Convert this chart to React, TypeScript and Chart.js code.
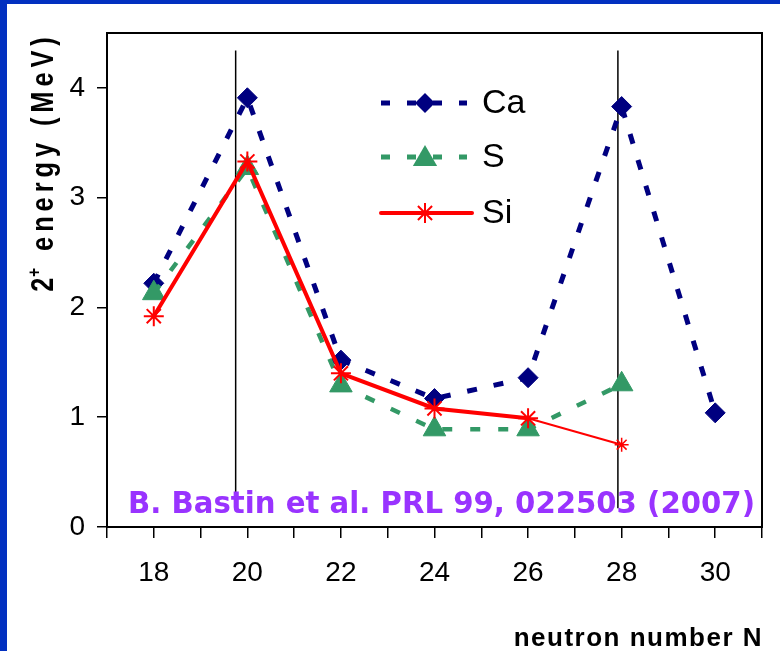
import React, { useEffect, useRef } from 'react';
import { Chart, registerables } from 'chart.js';

Chart.register(...registerables);

// ---- data ----
const neutronNumbers = [18, 20, 22, 24, 26, 28, 30];
const caEnergies = [2.22, 3.91, 1.52, 1.17, 1.36, 3.83, 1.04];
const sNeutronNumbers = [18, 20, 22, 24, 26, 28];
const sEnergies = [2.13, 3.27, 1.29, 0.89, 0.89, 1.3];
const siNeutronNumbers = [18, 20, 22, 24, 26, 28];
const siEnergies = [1.92, 3.33, 1.4, 1.08, 0.99, 0.75];
const shellLinePositions = [19.75, 27.92];
const shellLineEnergyRange = [0.17, 4.34];
const xTickLabels = ['18', '20', '22', '24', '26', '28', '30'];
const yTickLabels = ['0', '1', '2', '3', '4'];
const seriesNames = ['Ca', 'S', 'Si'];
const xAxisTitle = 'neutron number N';
const yAxisTitleMain = '2';
const yAxisTitleSup = '+';
const yAxisTitleRest = ' energy (MeV)';
const citation = 'B. Bastin et al. PRL 99, 022503 (2007)';

const NAVY = '#000080';
const GREEN = '#339966';
const RED = '#ff0000';
const PURPLE = '#9933ff';
const BLUE = '#0230c0';
const SANS = '"Liberation Sans", Arial, sans-serif';

function drawDiamond(ctx: CanvasRenderingContext2D, x: number, y: number, r: number) {
  ctx.beginPath();
  ctx.moveTo(x, y - r);
  ctx.lineTo(x + r, y);
  ctx.lineTo(x, y + r);
  ctx.lineTo(x - r, y);
  ctx.closePath();
  ctx.fill();
}
function drawTriangle(ctx: CanvasRenderingContext2D, x: number, y: number, r: number) {
  ctx.beginPath();
  for (let i = 0; i < 3; i++) {
    const a = (i * 2 * Math.PI) / 3;
    const px = x + Math.sin(a) * r;
    const py = y - Math.cos(a) * r;
    if (i === 0) ctx.moveTo(px, py);
    else ctx.lineTo(px, py);
  }
  ctx.closePath();
  ctx.fill();
}
function drawStar(ctx: CanvasRenderingContext2D, x: number, y: number, r: number) {
  ctx.beginPath();
  for (let i = 0; i < 4; i++) {
    const a = (i * Math.PI) / 4;
    ctx.moveTo(x + Math.cos(a) * r, y + Math.sin(a) * r);
    ctx.lineTo(x - Math.cos(a) * r, y - Math.sin(a) * r);
  }
  ctx.stroke();
}

const overlayPlugin = {
  id: 'overlay',
  afterDraw(chart: any) {
    const ctx: CanvasRenderingContext2D = chart.ctx;
    const a = chart.chartArea;
    ctx.save();
    // frame
    ctx.strokeStyle = '#000';
    ctx.lineWidth = 2;
    ctx.strokeRect(a.left, a.top, a.right - a.left, a.bottom - a.top);

    // legend
    const lx0 = 374;
    const lx1 = 460;
    const mx = 418;
    const rows = [99, 153, 209];
    ctx.strokeStyle = NAVY;
    ctx.lineWidth = 5;
    ctx.setLineDash([9, 17]);
    ctx.beginPath();
    ctx.moveTo(lx0, rows[0]);
    ctx.lineTo(lx1, rows[0]);
    ctx.stroke();
    ctx.fillStyle = NAVY;
    drawDiamond(ctx, mx, rows[0], 10);
    ctx.strokeStyle = GREEN;
    ctx.beginPath();
    ctx.moveTo(lx0, rows[1]);
    ctx.lineTo(lx1, rows[1]);
    ctx.stroke();
    ctx.fillStyle = GREEN;
    drawTriangle(ctx, mx, rows[1] + 2, 14);
    ctx.setLineDash([]);
    ctx.strokeStyle = RED;
    ctx.lineWidth = 4;
    ctx.lineCap = 'round';
    ctx.beginPath();
    ctx.moveTo(lx0, rows[2]);
    ctx.lineTo(lx1 + 5, rows[2]);
    ctx.stroke();
    ctx.lineCap = 'butt';
    ctx.lineWidth = 2;
    drawStar(ctx, mx, rows[2], 10);

    ctx.fillStyle = '#000';
    ctx.font = `34px ${SANS}`;
    ctx.textBaseline = 'middle';
    ctx.textAlign = 'left';
    seriesNames.forEach((n, i) => ctx.fillText(n, 475, rows[i] + 1));

    // citation
    ctx.fillStyle = PURPLE;
    ctx.font = `bold 30px "DejaVu Sans", sans-serif`;
    ctx.textBaseline = 'alphabetic';
    ctx.fillText(citation, 121, 509, 627);

    // x axis title
    ctx.fillStyle = '#000';
    ctx.font = `bold 26px ${SANS}`;
    (ctx as any).letterSpacing = '1.5px';
    ctx.textAlign = 'right';
    ctx.fillText(xAxisTitle, 756, 642);

    // y axis title (rotated, narrowed)
    ctx.translate(46, 156);
    ctx.rotate(-Math.PI / 2);
    ctx.scale(0.82, 1);
    ctx.textAlign = 'left';
    const mainFont = `bold 31px ${SANS}`;
    const supFont = `bold 19px ${SANS}`;
    (ctx as any).letterSpacing = '6px';
    ctx.font = mainFont;
    const w1 = ctx.measureText(yAxisTitleMain).width;
    const w3 = ctx.measureText(yAxisTitleRest).width;
    ctx.font = supFont;
    const w2 = ctx.measureText(yAxisTitleSup).width;
    let x = -(w1 + w2 + w3) / 2;
    ctx.font = mainFont;
    ctx.fillText(yAxisTitleMain, x, 0);
    x += w1 - 5;
    ctx.font = supFont;
    ctx.fillText(yAxisTitleSup, x, -13);
    x += w2;
    ctx.font = mainFont;
    ctx.fillText(yAxisTitleRest, x, 0);
    ctx.restore();
  },
};

export default function App() {
  const ref = useRef<HTMLCanvasElement | null>(null);
  useEffect(() => {
    document.body.style.margin = '0';
    const canvas = ref.current;
    if (!canvas) return;
    const verticalSets = shellLinePositions.map((p) => ({
      type: 'line' as const,
      label: 'shell',
      data: shellLineEnergyRange.map((e) => ({ x: p, y: e })),
      borderColor: '#000',
      borderWidth: 1.5,
      pointRadius: 0,
      fill: false,
    }));
    const chart = new Chart(canvas, {
      type: 'line',
      data: {
        datasets: [
          {
            label: seriesNames[2],
            data: siNeutronNumbers.map((n, i) => ({ x: n, y: siEnergies[i] })),
            borderColor: RED,
            backgroundColor: RED,
            borderWidth: 4,
            segment: { borderWidth: (c: any) => (c.p1DataIndex === siEnergies.length - 1 ? 2 : 4) },
            pointStyle: 'star',
            pointRadius: siEnergies.map((_, i) => (i === siEnergies.length - 1 ? 7 : 10)),
            pointBorderWidth: siEnergies.map((_, i) => (i === siEnergies.length - 1 ? 1.5 : 2)),
            pointBorderColor: RED,
            fill: false,
          },
          {
            label: seriesNames[1],
            data: sNeutronNumbers.map((n, i) => ({ x: n, y: sEnergies[i] })),
            borderColor: GREEN,
            backgroundColor: GREEN,
            borderWidth: 4.5,
            borderDash: [10, 18],
            pointStyle: 'triangle',
            pointRadius: 13,
            pointBorderWidth: 1,
            pointBorderColor: GREEN,
            pointBackgroundColor: GREEN,
            fill: false,
          },
          {
            label: seriesNames[0],
            data: neutronNumbers.map((n, i) => ({ x: n, y: caEnergies[i] })),
            borderColor: NAVY,
            backgroundColor: NAVY,
            borderWidth: 5,
            borderDash: [10, 17],
            pointStyle: 'rectRot',
            pointRadius: 10,
            pointBorderWidth: 1,
            pointBorderColor: NAVY,
            pointBackgroundColor: NAVY,
            fill: false,
          },
          ...verticalSets,
        ] as any,
      },
      options: {
        responsive: false,
        animation: false,
        layout: { padding: { top: 29, right: 14, left: 0, bottom: 0 } },
        plugins: { legend: { display: false }, tooltip: { enabled: false }, title: { display: false } },
        scales: {
          x: {
            type: 'linear',
            min: 17,
            max: 31,
            ticks: {
              stepSize: 1,
              autoSkip: false,
              maxRotation: 0,
              includeBounds: false,
              color: '#000',
              font: { family: SANS, size: 28 },
              padding: 18,
              callback: (v: any) => (xTickLabels.includes(String(v)) ? String(v) : ''),
            },
            grid: { display: true, drawOnChartArea: false, drawTicks: true, tickLength: 11, color: '#000', lineWidth: 1.5 },
            border: { display: true, color: '#000', width: 2 },
            afterFit: (s: any) => {
              s.height = 124;
            },
          },
          y: {
            type: 'linear',
            min: 0,
            max: 4.5,
            ticks: {
              stepSize: 1,
              includeBounds: false,
              color: '#000',
              font: { family: SANS, size: 28 },
              padding: 12,
              callback: (v: any) => (yTickLabels.includes(String(v)) ? String(v) : ''),
            },
            grid: { display: true, drawOnChartArea: false, drawTicks: true, tickLength: 10, color: '#000', lineWidth: 1.5 },
            border: { display: true, color: '#000', width: 2 },
            afterFit: (s: any) => {
              s.width = 100;
            },
          },
        },
      } as any,
      plugins: [overlayPlugin],
    });
    return () => chart.destroy();
  }, []);

  return (
    <div
      style={{
        width: 780,
        height: 651,
        boxSizing: 'border-box',
        background: '#fff',
        borderLeft: `7px solid ${BLUE}`,
        borderTop: `4px solid ${BLUE}`,
        overflow: 'hidden',
      }}
    >
      <canvas ref={ref} width={773} height={647} style={{ display: 'block' }} />
    </div>
  );
}
